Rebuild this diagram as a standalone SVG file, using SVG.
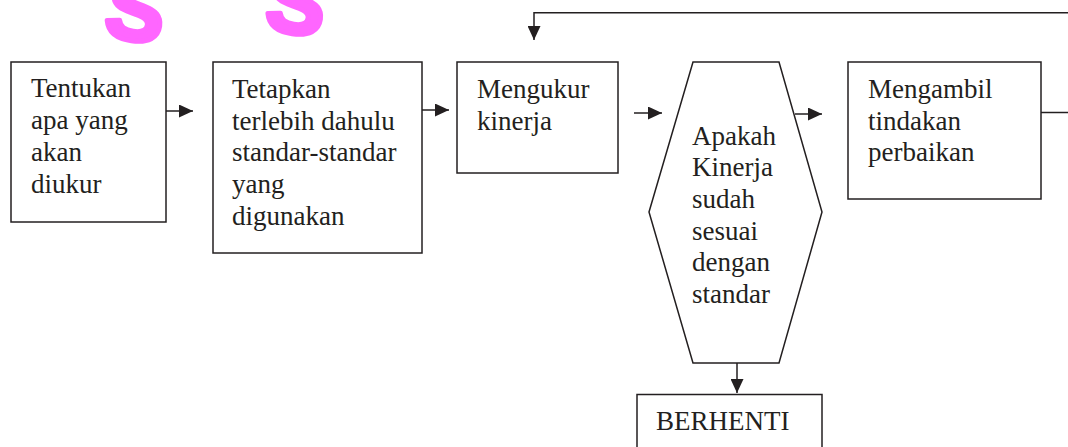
<svg xmlns="http://www.w3.org/2000/svg" width="1068" height="447" viewBox="0 0 1068 447">
<style>
.box{fill:#fff;stroke:#231f20;stroke-width:1.5}
.ln{fill:none;stroke:#231f20;stroke-width:1.5}
.t{font-family:"Liberation Serif","Times New Roman",serif;font-size:27px;fill:#231f20}
.wm{font-family:"Liberation Sans",Arial,sans-serif;font-weight:bold;font-size:88px;fill:#ff66ff;stroke:#ff66ff;stroke-width:5;stroke-linejoin:round}
</style>
<defs>
<marker id="ah" viewBox="0 0 14 13" refX="14" refY="6.5" markerWidth="14" markerHeight="13" markerUnits="userSpaceOnUse" orient="auto">
<path d="M0,0 L14,6.5 L0,13 Z" fill="#231f20"/>
</marker>
</defs>
<g id="watermark">
<text class="wm" x="105" y="40" transform="rotate(8 135 20)">S</text>
<text class="wm" x="266" y="33" transform="rotate(8 295 12)">S</text>
</g>
<g id="connectors">
<line class="ln" x1="166" y1="111" x2="193" y2="111" marker-end="url(#ah)"/>
<line class="ln" x1="422" y1="110" x2="449" y2="110" marker-end="url(#ah)"/>
<line class="ln" x1="634" y1="113" x2="662" y2="113" marker-end="url(#ah)"/>
<line class="ln" x1="795" y1="114" x2="822" y2="114" marker-end="url(#ah)"/>
<line class="ln" x1="737" y1="363" x2="737" y2="393" marker-end="url(#ah)"/>
<line class="ln" x1="1041" y1="112.5" x2="1068" y2="112.5"/>
<polyline class="ln" points="1068,12.7 534,12.7 534,40" marker-end="url(#ah)"/>
</g>
<g id="n1">
<rect class="box" x="11" y="62" width="155" height="160"/>
<text class="t" x="31" y="97">Tentukan</text>
<text class="t" x="31" y="129">apa yang</text>
<text class="t" x="31" y="161">akan</text>
<text class="t" x="31" y="193">diukur</text>
</g>
<g id="n2">
<rect class="box" x="213" y="62" width="209" height="191"/>
<text class="t" x="232" y="97.5">Tetapkan</text>
<text class="t" x="232" y="129.5">terlebih dahulu</text>
<text class="t" x="232" y="161">standar-standar</text>
<text class="t" x="232" y="193">yang</text>
<text class="t" x="232" y="225">digunakan</text>
</g>
<g id="n3">
<rect class="box" x="457" y="62" width="161" height="111"/>
<text class="t" x="477" y="98">Mengukur</text>
<text class="t" x="477" y="129.5">kinerja</text>
</g>
<g id="n4">
<polygon class="box" points="693,62 779,62 822,212 779,363 693,363 649,212"/>
<text class="t" x="692" y="145">Apakah</text>
<text class="t" x="692" y="176">Kinerja</text>
<text class="t" x="692" y="207.5">sudah</text>
<text class="t" x="692" y="239.5">sesuai</text>
<text class="t" x="692" y="271">dengan</text>
<text class="t" x="692" y="302.5">standar</text>
</g>
<g id="n5">
<rect class="box" x="848" y="62" width="193" height="137"/>
<text class="t" x="868" y="98">Mengambil</text>
<text class="t" x="868" y="129.5">tindakan</text>
<text class="t" x="868" y="161">perbaikan</text>
</g>
<g id="n6">
<rect class="box" x="637" y="394.5" width="185" height="70"/>
<text class="t" x="656" y="430">BERHENTI</text>
</g>
</svg>
